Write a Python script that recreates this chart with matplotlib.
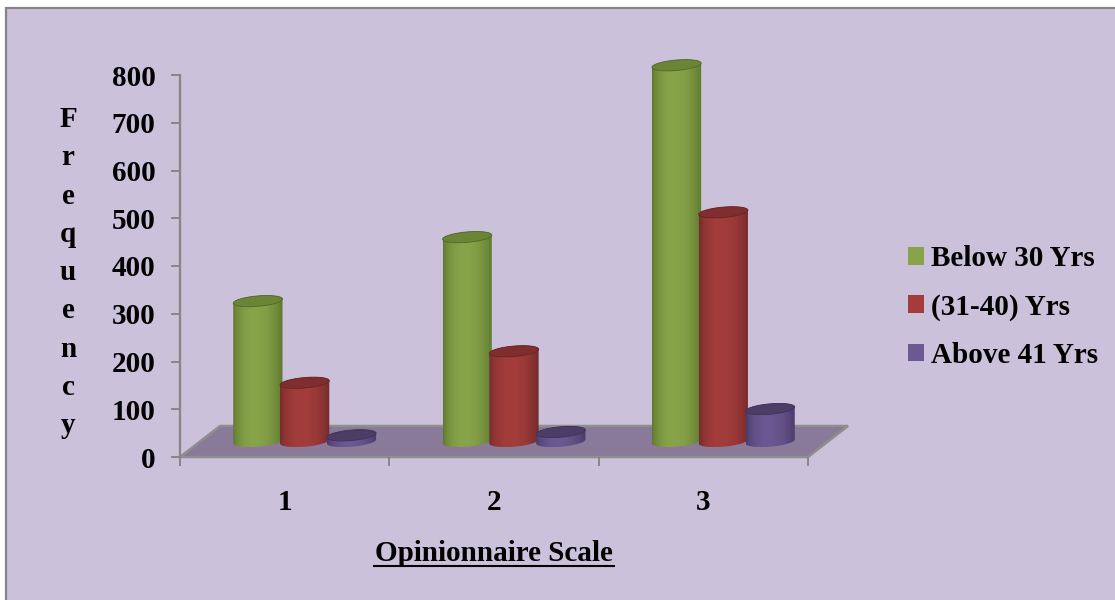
import numpy as np
import matplotlib
matplotlib.use("Agg")
import matplotlib.pyplot as plt
from matplotlib.patches import Polygon, PathPatch, Rectangle, Patch
from matplotlib.path import Path
from matplotlib.lines import Line2D
from matplotlib.colors import to_rgb

# Data
categories = [1, 2, 3]
series_names = ["Below 30 Yrs", "(31-40) Yrs", "Above 41 Yrs"]
below_30 = [294, 428, 788]
age_31_40 = [123, 189, 480]
above_41 = [13, 20, 68]
yticks = [0, 100, 200, 300, 400, 500, 600, 700, 800]

series_values = [below_30, age_31_40, above_41]
# (edge shade, highlight, top face)
series_colors = [
    ("#5a742b", "#88a44a", "#6b8537"),
    ("#72282a", "#a33d3b", "#7f2e2d"),
    ("#463865", "#6c5892", "#4b3d66"),
]

plt.rcParams["font.family"] = ["Liberation Serif", "DejaVu Serif"]
plt.rcParams["font.weight"] = "bold"
FS = 21

W, H = 1115, 600
fig = plt.figure(figsize=(W / 100, H / 100), dpi=100)
fig.patch.set_facecolor("white")

# chart area background with border on the left/top
bg = Rectangle((6 / W, -0.02), 1.05, (H - 8) / H + 0.02, transform=fig.transFigure,
               facecolor="#ccc1da", edgecolor="#858585", linewidth=1.6, zorder=0)
fig.add_artist(bg)

# axes: x 0.5..3.5 over 180..808 px, y 0..900 with 0 at 457 px and 800 at 75 px
px_per_val = (457 - 75) / 800
ytop = 900
ax_h = ytop * px_per_val
ax = fig.add_axes([180 / W, (H - 457) / H, 628 / W, ax_h / H])
ax.set_facecolor("none")
ax.set_xlim(0.5, 3.5)
ax.set_ylim(0, ytop)
sx = 628 / 3.0      # px per category unit
sy = px_per_val     # px per value unit

# floor (oblique depth)
depth_dx, depth_dy = 40 / sx, 31 / sy
floor = Polygon([(0.5, 0), (3.5, 0), (3.5 + depth_dx, depth_dy), (0.5 + depth_dx, depth_dy)],
                closed=True, facecolor="#887a98", edgecolor="#8f8f8f", linewidth=1.8,
                clip_on=False, zorder=1)
ax.add_patch(floor)

# cylinders
mid_dx, mid_dy = depth_dx / 2, depth_dy / 2
spacing = 46.8 / sx
a_px, b_px, tilt = 24.7, 5.2, np.deg2rad(5)


def ellipse_pts(cx, cy, t):
    px = a_px * np.cos(t) * np.cos(tilt) - b_px * np.sin(t) * np.sin(tilt)
    py = a_px * np.cos(t) * np.sin(tilt) + b_px * np.sin(t) * np.cos(tilt)
    return np.column_stack([cx + px / sx, cy + py / sy])


t0 = np.arctan(-(b_px / a_px) * np.tan(tilt))
upper_t = np.linspace(t0, t0 + np.pi, 60)
lower_t = np.linspace(t0 + np.pi, t0 + 2 * np.pi, 60)

u = np.linspace(0, 1, 200)
shape = np.sin(np.pi * u ** 0.85) ** 0.7

z = 3
for j, cat in enumerate(categories):
    for i, vals in enumerate(series_values):
        dark, light, topc = [np.array(to_rgb(c)) for c in series_colors[i]]
        cx = cat + mid_dx + (i - 1) * spacing
        base = mid_dy
        top = base + vals[j]
        body = np.vstack([ellipse_pts(cx, base, lower_t), ellipse_pts(cx, top, upper_t)])
        clip = PathPatch(Path(np.vstack([body, body[:1]]), closed=True),
                         transform=ax.transData, facecolor="none", edgecolor="none")
        grad = dark[None, :] + (light - dark)[None, :] * shape[:, None]
        img = ax.imshow(grad[None, :, :], extent=[body[:, 0].min(), body[:, 0].max(),
                                                  body[:, 1].min(), body[:, 1].max()],
                        aspect="auto", interpolation="bilinear", zorder=z)
        img.set_clip_path(clip)
        cap = Polygon(ellipse_pts(cx, top, np.linspace(0, 2 * np.pi, 80)), closed=True,
                      facecolor=topc, edgecolor=dark * 0.9, linewidth=0.6, zorder=z + 0.5)
        ax.add_patch(cap)
        z += 1

ax.set_xlim(0.5, 3.5)
ax.set_ylim(0, ytop)

# axes styling
for side in ["top", "right", "bottom"]:
    ax.spines[side].set_visible(False)
ax.spines["left"].set_color("#868686")
ax.spines["left"].set_linewidth(1.6)
ax.spines["left"].set_bounds(0, 800)
ax.set_yticks(yticks)
ax.set_yticklabels([str(v) for v in yticks], fontsize=FS, fontweight="bold")
ax.tick_params(axis="y", length=6.5, width=1.4, color="#868686", pad=11)
ax.set_xticks(categories)
ax.set_xticklabels([str(c) for c in categories], fontsize=FS, fontweight="bold")
ax.set_xticks([0.5, 1.5, 2.5, 3.5], minor=True)
ax.tick_params(axis="x", which="major", length=0, pad=23)
ax.tick_params(axis="x", which="minor", length=6.5, width=1.4, color="#868686")

# y axis title, one letter per line
for k, ch in enumerate("Frequency"):
    fig.text(68 / W, 1 - (127 + 38.3 * k) / H, ch, ha="center", va="baseline",
             fontsize=FS, fontweight="bold")

# x axis title, underlined
fig.text(494 / W, 1 - 561 / H, "Opinionnaire Scale", ha="center", va="baseline",
         fontsize=FS, fontweight="bold")
fig.add_artist(Line2D([374 / W, 614 / W], [1 - 566 / H, 1 - 566 / H],
                      transform=fig.transFigure, color="black", linewidth=1.5))

# legend
handles = [Patch(facecolor=series_colors[i][1], edgecolor="none") for i in range(3)]
fig.legend(handles, series_names, loc="center left", bbox_to_anchor=(882 / W, 1 - 307 / H),
           frameon=False, handlelength=0.55, handleheight=0.55,
           handletextpad=0.22, labelspacing=0.73, prop={"weight": "bold", "size": FS})

fig.savefig("out.png", dpi=100)
